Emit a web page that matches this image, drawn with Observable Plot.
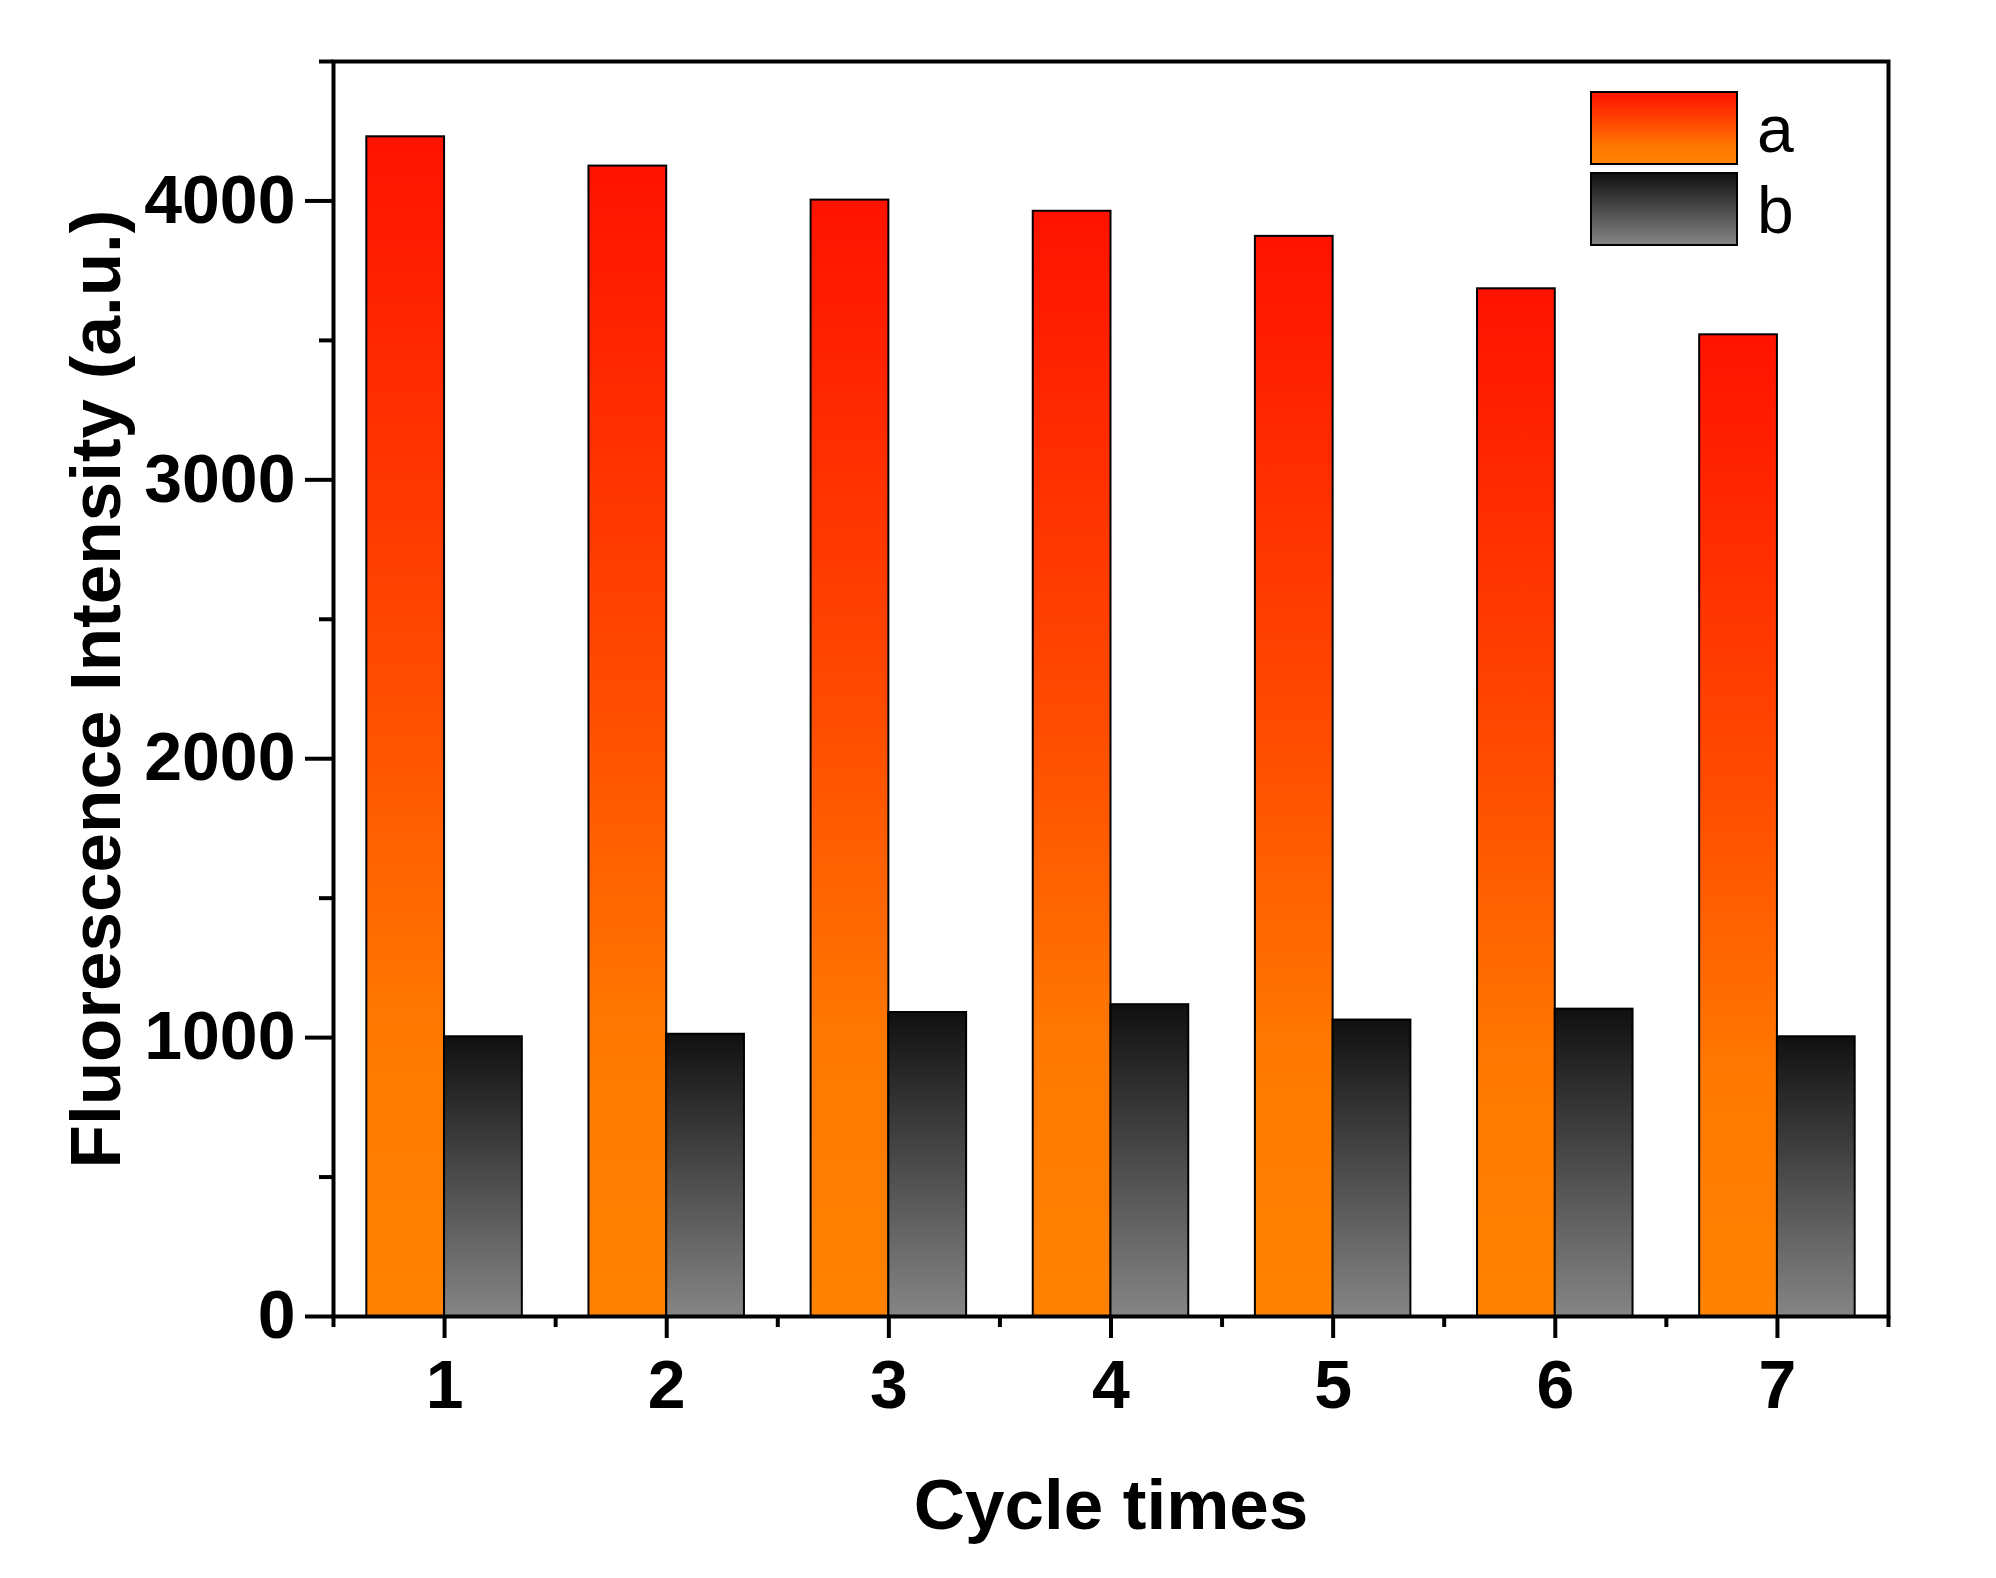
<!DOCTYPE html>
<html><head><meta charset="utf-8">
<script src="https://cdn.jsdelivr.net/npm/d3@7"></script>
<script src="https://cdn.jsdelivr.net/npm/@observablehq/plot@0.6"></script>
<style>body{margin:0;background:#fff}svg{display:block}</style>
</head><body><div id="chart"></div>
<script>
// ---- data ----
const cycles = [1, 2, 3, 4, 5, 6, 7];
const seriesA = [4230, 4125, 4003, 3963, 3873, 3685, 3520];
const seriesB = [1003, 1012, 1090, 1118, 1063, 1102, 1003];
const seriesNames = ["a", "b"];
const yMajorTicks = [0, 1000, 2000, 3000, 4000];
const yMinorTicks = [500, 1500, 2500, 3500, 4500];
const xMajorTicks = [1, 2, 3, 4, 5, 6, 7];
const xMinorTicks = [0.5, 1.5, 2.5, 3.5, 4.5, 5.5, 6.5, 7.5];
const xLabel = "Cycle times";
const yLabel = "Fluorescence Intensity (a.u.)";

// ---- layout ----
const W = 1996, H = 1578;
const mL = 333, mR = 108, mT = 61, mB = 262;
const barW = 0.35;
const font = "'Liberation Sans', Arial, sans-serif";
const gradIds = ["gradA", "gradB"];

const rows = cycles.map((c, i) => ({cycle: c, a: seriesA[i], b: seriesB[i]}));

const plot = Plot.plot({
  width: W, height: H,
  marginLeft: mL, marginRight: mR, marginTop: mT, marginBottom: mB,
  x: {domain: [0.5, 7.5]},
  y: {domain: [0, 4500]},
  style: {fontFamily: font, color: "black", background: "white", overflow: "visible"},
  marks: [
    Plot.rectY(rows, {x1: d => d.cycle - barW, x2: d => d.cycle, y1: 0, y2: "a",
      fill: "url(#gradA)", stroke: "black", strokeWidth: 2, inset: 0}),
    Plot.rectY(rows, {x1: d => d.cycle, x2: d => d.cycle + barW, y1: 0, y2: "b",
      fill: "url(#gradB)", stroke: "black", strokeWidth: 2, inset: 0}),
    Plot.axisY({ticks: yMajorTicks, tickSize: 28, tickPadding: 10, tickFormat: d3.format("d"),
      fontSize: 68, fontWeight: "bold", strokeWidth: 4, label: null}),
    Plot.axisY({ticks: yMinorTicks, tickSize: 14, tickFormat: () => "", strokeWidth: 4, label: null}),
    Plot.axisX({ticks: xMajorTicks, tickSize: 22, tickPadding: 21, tickFormat: d3.format("d"),
      fontSize: 68, fontWeight: "bold", strokeWidth: 4, label: null}),
    Plot.axisX({ticks: xMinorTicks, tickSize: 11, tickFormat: () => "", strokeWidth: 4, label: null}),
    Plot.frame({stroke: "black", strokeWidth: 4}),
    Plot.text([xLabel], {frameAnchor: "bottom", lineAnchor: "bottom", textAnchor: "middle", dy: 212,
      fontSize: 71, fontWeight: "bold", fill: "black"}),
    Plot.text([yLabel], {frameAnchor: "left", lineAnchor: "middle", textAnchor: "middle", rotate: -90, dx: -236,
      fontSize: 71, fontWeight: "bold", fill: "black"})
  ]
});

const svg = d3.select(plot);
const defs = svg.insert("defs", ":first-child");
const gA = defs.append("linearGradient").attr("id", "gradA")
  .attr("x1", 0).attr("y1", 0).attr("x2", 0).attr("y2", 1);
[["0%", "#ff1200"], ["45%", "#ff4a00"], ["75%", "#ff7800"], ["100%", "#ff8200"]]
  .forEach(([o, c]) => gA.append("stop").attr("offset", o).attr("stop-color", c));
const gB = defs.append("linearGradient").attr("id", "gradB")
  .attr("x1", 0).attr("y1", 0).attr("x2", 0).attr("y2", 1);
gB.append("stop").attr("offset", "0%").attr("stop-color", "#101010");
gB.append("stop").attr("offset", "100%").attr("stop-color", "#858585");

// legend (inside frame, top-right)
const frameRight = W - mR;
const boxW = 146, boxH = 72, gap = 9;
const boxX = frameRight - 151 - boxW;
const boxY0 = mT + 31;
const lg = svg.append("g").attr("text-anchor", "start");
seriesNames.forEach((name, i) => {
  const y = boxY0 + i * (boxH + gap);
  lg.append("rect").attr("x", boxX).attr("y", y).attr("width", boxW).attr("height", boxH)
    .attr("fill", `url(#${gradIds[i]})`).attr("stroke", "black").attr("stroke-width", 2);
  lg.append("text").attr("x", boxX + boxW + 20).attr("y", y + boxH / 2)
    .attr("dy", "0.36em").attr("font-size", 66).attr("font-family", font)
    .attr("text-anchor", "start").attr("fill", "black").text(name);
});

document.getElementById("chart").appendChild(plot);
</script>
</body></html>
